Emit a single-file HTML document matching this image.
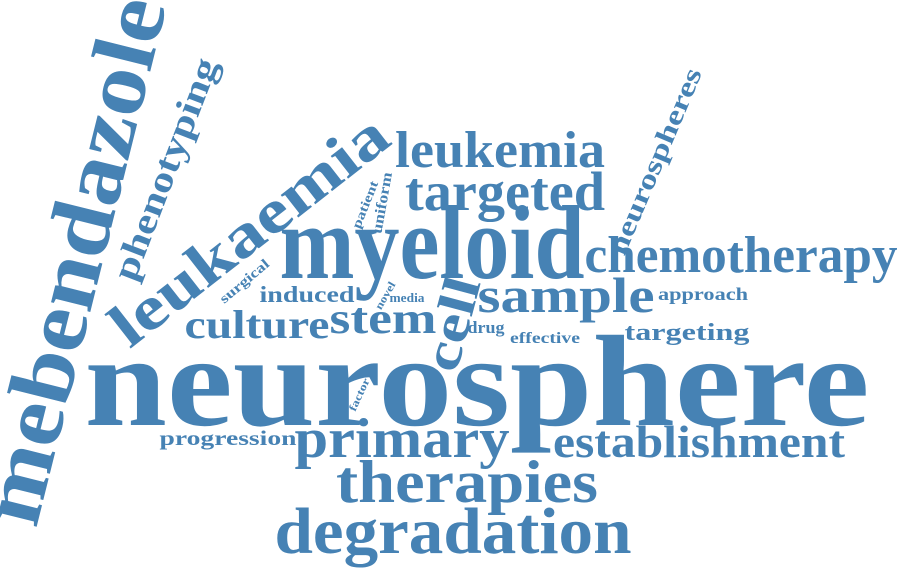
<!DOCTYPE html>
<html><head><meta charset="utf-8"><style>
html,body{margin:0;padding:0;background:#fff;width:900px;height:572px;overflow:hidden}
svg text{font-family:"Liberation Serif",serif;font-weight:bold;fill:#4682b4}
</style></head><body>
<svg id="cloud" width="900" height="572" viewBox="0 0 900 572"></svg>
<script>
const words = ["neurosphere","myeloid","mebendazole","leukaemia","degradation","therapies","primary","chemotherapy","targeted","leukemia","establishment","sample","phenotyping","culture","stem","cell","neurospheres","targeting","induced","progression","approach","drug","effective","media","uniform","surgical","patient","novel","factor"];
const weights = [130,105,88,62,66,60,56,52,55,52,46,50,36,40,44,52,27,24,23,21,18,17,16,13,15,14,13,11,11];
// layout: [cx, y, textLength, rotation]  (y = baseline for unrotated, center for rotated)
const layout = [
 [477,425,785,0],[432,278,305,0],[80,262,540,-76],[252,234,335,-38],[453,553,357,0],
 [467,502,262,0],[402,457,215,0],[741,272,313,0],[505,210,200,0],[500,167,210,0],
 [699,457,292,0],[566,312,177,0],[168,170,235,-69],[257,338,145,0],[383,333,107,0],
 [456,325,95,-75],[657,162,200,-67],[687,340,125,0],[307,302,95,0],[228,445,137,0],
 [703,300,90,0],[486,333,37,0],[545,343,70,0],[407,302,35,0],[383,203,62,-80],
 [245,282,60,-40],[366,205,50,-68],[386,296,30,-60],[360,395,35,-65]];
const svg = document.getElementById('cloud');
const NS = "http://www.w3.org/2000/svg";
words.forEach((w,i)=>{
  const [cx,cy,len,rot] = layout[i];
  const t = document.createElementNS(NS,'text');
  
  
  t.setAttribute('font-size', weights[i]);
  t.setAttribute('text-anchor','middle');
  t.setAttribute('textLength', len);
  t.setAttribute('lengthAdjust','spacingAndGlyphs');
  if (rot) {
    t.setAttribute('x',0); t.setAttribute('y', weights[i]*0.25);
    t.setAttribute('transform',`translate(${cx},${cy}) rotate(${rot})`);
  } else {
    t.setAttribute('x',cx); t.setAttribute('y',cy);
  }
  t.textContent = w;
  svg.appendChild(t);
});
</script>
</body></html>
